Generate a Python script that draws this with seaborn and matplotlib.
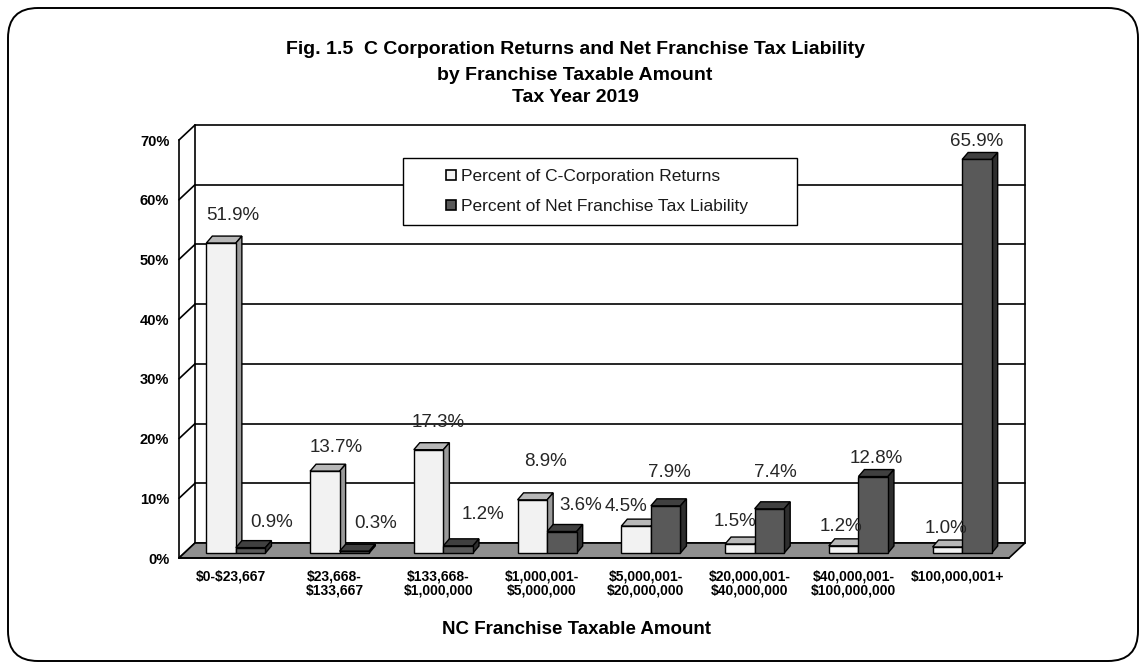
import numpy as np
import pandas as pd
import matplotlib
matplotlib.use("Agg")
import matplotlib.pyplot as plt
import matplotlib.transforms as mtransforms
from matplotlib.patches import Polygon, Rectangle, FancyBboxPatch, Patch
import seaborn as sns

# data
brackets = ['$0-$23,667', '$23,668-\n$133,667', '$133,668-\n$1,000,000',
            '$1,000,001-\n$5,000,000', '$5,000,001-\n$20,000,000',
            '$20,000,001-\n$40,000,000', '$40,000,001-\n$100,000,000',
            '$100,000,001+']
pct_returns = [51.9, 13.7, 17.3, 8.9, 4.5, 1.5, 1.2, 1.0]
pct_liability = [0.9, 0.3, 1.2, 3.6, 7.9, 7.4, 12.8, 65.9]
series = ['Percent of C-Corporation Returns', 'Percent of Net Franchise Tax Liability']
yticks = [0, 10, 20, 30, 40, 50, 60, 70]

# label nudges in pixels (dx, height above bar top)
lbl_off_returns = [(12, 28), (11, 24), (10, 27), (13, 38), (-10, 20), (-5, 23), (-3, 19), (-1, 19)]
lbl_off_liab = [(21, 25), (21, 28), (25, 31), (19, 26), (4, 33), (6, 36), (3, 18), (0, 18)]

df = pd.DataFrame({
    'bracket': brackets * 2,
    'pct': pct_returns + pct_liability,
    'series': [series[0]] * 8 + [series[1]] * 8,
})

sns.set_style('white')
plt.rcParams['font.family'] = ['Liberation Sans', 'DejaVu Sans']
plt.rcParams['text.color'] = 'black'
plt.rcParams['xtick.color'] = 'black'
plt.rcParams['ytick.color'] = 'black'

W, H = 1146, 666
fig = plt.figure(figsize=(W / 100, H / 100), dpi=100)
fig.patch.set_facecolor('white')

# front plane of the "3d" box, in pixels
x_left, x_right = 179, 1009
y_zero, y_top = 558, 140
ax = fig.add_axes([x_left / W, (H - y_zero) / H, (x_right - x_left) / W, (y_zero - y_top) / H])
ax.patch.set_visible(False)

c_light, c_dark = '#f2f2f2', '#595959'
sns.barplot(data=df, x='bracket', y='pct', hue='series', palette=[c_light, c_dark],
            width=0.57, saturation=1, edgecolor='black', linewidth=1.0,
            legend=False, ax=ax)

ax.set_xlim(-0.5, 7.5)
ax.set_ylim(0, 70)
pxx = (x_right - x_left) / 8.0
pxy = (y_zero - y_top) / 70.0

def px(dx, dy):
    return dx / pxx, dy / pxy

wx, wy = px(16, 15)      # wall depth
bx, by = px(5, 5)        # bar front offset
dx, dy = px(6, 7)        # bar depth

lw = 1.2
# floor
floor = Polygon([(-0.5, 0), (7.5, 0), (7.5 + wx, wy), (-0.5 + wx, wy)], closed=True,
                facecolor='#8f8f8f', edgecolor='black', lw=lw, zorder=1, clip_on=False)
ax.add_patch(floor)
# back wall and side wall lines
for v in yticks:
    ax.plot([-0.5 + wx, 7.5 + wx], [v + wy, v + wy], color='black', lw=lw, zorder=0.9, clip_on=False)
    ax.plot([-0.5, -0.5 + wx], [v, v + wy], color='black', lw=lw, zorder=0.9, clip_on=False)
for xv in (-0.5 + wx, 7.5 + wx):
    ax.plot([xv, xv], [wy, 70 + wy], color='black', lw=lw, zorder=0.9, clip_on=False)

# 3d faces of bars
face_cols = [('#b8b8b8', '#9a9a9a'), ('#404040', '#2e2e2e')]
for k, cont in enumerate(ax.containers):
    for p in cont.patches:
        p.set_x(p.get_x() + bx)
        p.set_y(p.get_y() + by)
        p.set_zorder(2.6 + k * 0.2)
        p.set_clip_on(False)
        x0, y0 = p.get_x(), p.get_y()
        x1, y1 = x0 + p.get_width(), y0 + p.get_height()
        top = Polygon([(x0, y1), (x1, y1), (x1 + dx, y1 + dy), (x0 + dx, y1 + dy)],
                      facecolor=face_cols[k][0], edgecolor='black', lw=1.0,
                      zorder=2.5 + k * 0.2, clip_on=False)
        side = Polygon([(x1, y0), (x1 + dx, y0 + dy), (x1 + dx, y1 + dy), (x1, y1)],
                       facecolor=face_cols[k][1], edgecolor='black', lw=1.0,
                       zorder=2.5 + k * 0.2, clip_on=False)
        ax.add_patch(top)
        ax.add_patch(side)

# value labels
for cont, vals, offs in zip(ax.containers, [pct_returns, pct_liability],
                            [lbl_off_returns, lbl_off_liab]):
    for p, v, (ox, oy) in zip(cont.patches, vals, offs):
        xc = p.get_x() + p.get_width() / 2
        ax.annotate(f'{v:.1f}%', xy=(xc, p.get_y() + p.get_height()), xytext=(ox, oy),
                    textcoords='offset pixels', ha='center', va='center',
                    fontsize=13.5, color='#262626', zorder=6, annotation_clip=False)

# axes, ticks
for s in ['top', 'right']:
    ax.spines[s].set_visible(False)
for s in ['left', 'bottom']:
    ax.spines[s].set_color('black')
    ax.spines[s].set_linewidth(lw)
    ax.spines[s].set_zorder(1.5)
ax.set_yticks(yticks, labels=[f'{v}%' for v in yticks])
ax.set_xticks(range(8), labels=[b.replace('$', r'\$') for b in brackets])
ax.set_xticks(np.arange(-0.5, 8, 1), minor=True)
ax.tick_params(axis='y', length=5, width=1, color='black', labelcolor='black', pad=2, labelsize=10.5)
ax.tick_params(axis='x', which='major', length=0, pad=8, labelsize=10, labelcolor='black')
ax.tick_params(axis='x', which='minor', length=5, width=1, color='black')
for t in ax.get_xticklabels() + ax.get_yticklabels():
    t.set_fontweight('bold')
    t.set_linespacing(1.05)
ax.set_xlabel('')
ax.set_ylabel('')

# legend
ax.add_patch(Rectangle((403 / W, (H - 225) / H), 394 / W, 67 / H, transform=fig.transFigure,
                       facecolor='white', edgecolor='black', lw=1.0, zorder=4, clip_on=False))
handles = [Patch(facecolor=c_light, edgecolor='black', lw=1.2),
           Patch(facecolor=c_dark, edgecolor='black', lw=1.2)]
leg = ax.legend(handles, series, loc='center left', bbox_to_anchor=(446 / W, (H - 191.5) / H),
                bbox_transform=fig.transFigure, frameon=False, fontsize=12.5,
                handlelength=0.55, handleheight=0.55, handletextpad=0.3,
                labelspacing=0.85, borderpad=0, borderaxespad=0)
leg.set_zorder(5)
for t in leg.get_texts():
    t.set_color('#1a1a1a')

# titles
title_lines = ['Fig. 1.5  C Corporation Returns and Net Franchise Tax Liability',
               'by Franchise Taxable Amount', 'Tax Year 2019']
for line, y in zip(title_lines, [50, 75, 98]):
    fig.text(575 / W, (H - y) / H, line, ha='center', va='center', fontsize=14,
             fontweight='bold', color='black')
fig.text(577 / W, (H - 629) / H, 'NC Franchise Taxable Amount', ha='center', va='center',
         fontsize=13.5, fontweight='bold', color='black')

# rounded border
border = FancyBboxPatch((8, H - 661), 1130, 653, boxstyle='round,pad=0,rounding_size=30',
                        transform=mtransforms.IdentityTransform(), fill=False,
                        edgecolor='black', lw=1.4)
fig.add_artist(border)

fig.savefig('out.png', dpi=100)
